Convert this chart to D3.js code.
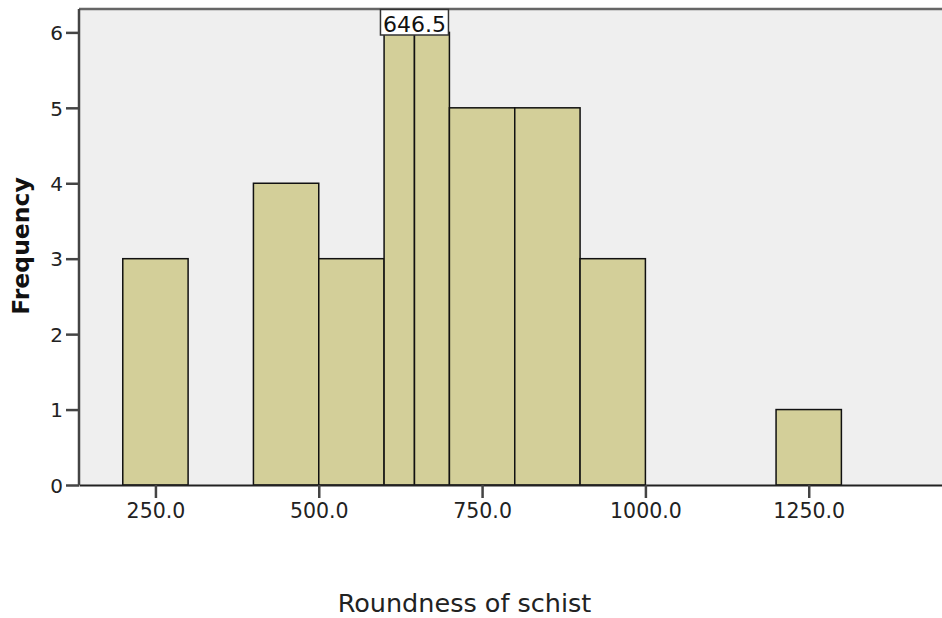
<!DOCTYPE html>
<html>
<head>
<meta charset="utf-8">
<script src="https://cdn.jsdelivr.net/npm/d3@7"></script>
<style>
  body { margin: 0; background: #fff; }
  text { font-family: "DejaVu Sans", Verdana, sans-serif; }
</style>
</head>
<body>
<div id="chart-area"></div>
<script>

// histogram bins (lower edge, upper edge) and counts
let binStart = [200, 300, 400, 500, 600, 646.5, 700, 800, 900, 1000, 1200];
let binEnd   = [300, 400, 500, 600, 646.5, 700, 800, 900, 1000, 1200, 1300];
let counts   = [3, 0, 4, 3, 6, 6, 5, 5, 3, 0, 1];

let xTicks = [250, 500, 750, 1000, 1250];
let yTicks = [0, 1, 2, 3, 4, 5, 6];
let markerValue = 646.5;

let margin = {top: 9, right: 0, bottom: 133, left: 79};
let width = 942 - margin.left - margin.right,
    height = 618 - margin.top - margin.bottom;

let svg = d3.select("#chart-area").append("svg")
    .attr("width", 942)
    .attr("height", 618)
  .append("g")
    .attr("transform", "translate(" + margin.left + "," + margin.top + ")");

// Scales
let x = d3.scaleLinear()
    .domain([133, 1454])
    .range([0, width]);

let y = d3.scaleLinear()
    .domain([0, 6.31])
    .range([height, 0]);

// plot background
svg.append("rect")
    .attr("width", width)
    .attr("height", height)
    .attr("fill", "#efefef");

// bars
let data = binStart.map((d, i) => ({x0: d, x1: binEnd[i], n: counts[i]}))
    .filter(d => d.n > 0);

svg.selectAll(".bar")
    .data(data)
  .enter().append("rect")
    .attr("class", "bar")
    .attr("x", d => x(d.x0))
    .attr("width", d => x(d.x1) - x(d.x0))
    .attr("y", d => y(d.n))
    .attr("height", d => height - y(d.n))
    .attr("fill", "#d3cf99")
    .attr("stroke", "#111")
    .attr("stroke-width", 1.5);

// top frame line
svg.append("line")
    .attr("x1", 0).attr("x2", width)
    .attr("y1", 0).attr("y2", 0)
    .attr("stroke", "#666")
    .attr("stroke-width", 2.5);

// Axes
let xAxis = d3.axisBottom(x)
    .tickValues(xTicks)
    .tickSize(13)
    .tickSizeOuter(0)
    .tickFormat(d3.format(".1f"));

let yAxis = d3.axisLeft(y)
    .tickValues(yTicks)
    .tickSize(13)
    .tickSizeOuter(0)
    .tickFormat(d3.format("d"));

let xAxisGroup = svg.append("g")
    .attr("class", "x-axis axis")
    .attr("transform", "translate(0," + height + ")")
    .call(xAxis);

let yAxisGroup = svg.append("g")
    .attr("class", "y-axis axis")
    .call(yAxis);

xAxisGroup.select(".domain").attr("stroke", "#222").attr("stroke-width", 2);
yAxisGroup.select(".domain").attr("stroke", "#444").attr("stroke-width", 2.5)
    .attr("d", "M0," + height + "V0");
svg.selectAll(".tick line").attr("stroke", "#444").attr("stroke-width", 2.5);

xAxisGroup.selectAll("text")
    .attr("font-size", 20.5)
    .attr("font-family", "DejaVu Sans")
    .attr("fill", "#222")
    .attr("y", 33)
    .attr("dy", 0);

yAxisGroup.selectAll("text")
    .attr("font-size", 20)
    .attr("font-family", "DejaVu Sans")
    .attr("fill", "#222")
    .attr("x", -16)
    .attr("dy", "0.36em");

// marker label on top of the tallest bars
let mk = svg.append("g")
    .attr("transform", "translate(" + x(markerValue) + ",0)");

mk.append("rect")
    .attr("x", -34)
    .attr("y", 0.5)
    .attr("width", 68)
    .attr("height", 25.5)
    .attr("fill", "#fff")
    .attr("stroke", "#333")
    .attr("stroke-width", 1.5);

mk.append("text")
    .attr("y", 22.5)
    .attr("text-anchor", "middle")
    .attr("font-size", 22)
    .attr("fill", "#111")
    .text(markerValue);

// axis titles
svg.append("text")
    .attr("transform", "translate(" + (-50) + "," + 237 + ") rotate(-90)")
    .attr("text-anchor", "middle")
    .attr("font-size", 23.5)
    .attr("font-weight", "bold")
    .attr("fill", "#111")
    .text("Frequency");

svg.append("text")
    .attr("x", 385.5)
    .attr("y", 603)
    .attr("text-anchor", "middle")
    .attr("font-size", 25.5)
    .attr("fill", "#222")
    .text("Roundness of schist");

</script>
</body>
</html>
